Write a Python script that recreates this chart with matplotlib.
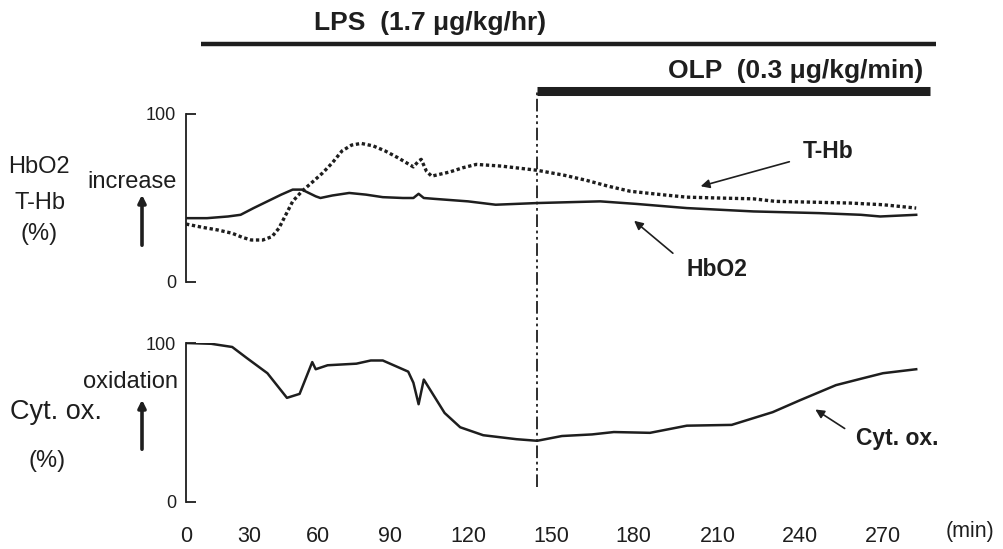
#!/usr/bin/env python3

import numpy as np
import matplotlib
matplotlib.use("Agg")
import matplotlib.pyplot as plt
from matplotlib import transforms

# HbO2 (solid)
TIME_HBO2 = [0, 10, 20, 26, 32, 38, 44, 49, 53, 56, 59, 61, 66, 73, 80, 87, 95,
             99, 101, 103, 107, 120, 130, 145, 168, 181, 199, 223, 247, 262, 269, 282]
HBO2 = [38, 38, 39, 40, 44, 48, 52, 55, 55, 53, 51, 50, 51.5, 53, 52, 50.5, 50,
        50, 52.5, 50, 49.5, 48, 46, 47, 48, 46.5, 44, 42, 41, 40, 39, 40]

# T-Hb (dotted)
TIME_THB = [0, 8, 15, 22, 27, 31, 36, 40, 43, 46, 49, 53, 58, 62, 66, 70, 74, 78,
            83, 88, 93, 99, 101, 102, 104, 106, 113, 118, 123, 132, 145, 155, 163,
            171, 179, 190, 199, 210, 223, 231, 245, 258, 270, 282]
THB = [34.5, 32.5, 31, 29, 26.5, 25, 25, 27, 32, 40, 48, 54, 60, 65, 71, 78, 81.5,
       82.5, 81, 78, 74, 68.5, 72, 73, 66, 63, 65.5, 68, 70, 69, 66.5, 63.5, 60.5,
       57, 54, 52, 50.5, 50, 49.5, 48, 47.5, 47, 46, 44]

# Cyt. ox.
TIME_CYT = [0, 12, 22, 29, 38, 46.5, 52, 57.5, 59, 64, 76, 82, 87, 97, 99, 101, 103,
            111, 117, 125.5, 137.5, 145, 154, 165, 173, 186, 199, 215, 230, 240, 253,
            262, 270, 282]
CYT = [100, 99.5, 97.5, 90.5, 81, 65.5, 68, 88, 83.5, 86, 87, 89, 89, 82, 75, 61.5,
       77, 56, 47, 42, 39.5, 38.5, 41.5, 42.5, 44, 43.5, 48, 48.5, 56.5, 64, 73.5,
       77.5, 81, 83.5]

XTICKS = [0, 30, 60, 90, 120, 150, 180, 210, 240, 270]
LPS_START, LPS_END = 7, 289
OLP_START, OLP_END = 145, 287

# the printed time axis is not evenly spaced: pixel position of each tick
TICK_PX = [186, 249, 318, 390, 468, 551, 633, 718, 800, 883]
W, H = 1004, 549
INK = "#1e1e1e"

ext_min = [-30] + XTICKS + [330]
ext_px = [TICK_PX[0] - 63] + TICK_PX + [TICK_PX[-1] + 166]


def fwd(m):
    return np.interp(m, ext_min, ext_px)


def inv(p):
    return np.interp(p, ext_px, ext_min)


def fx(x):
    return x / W


def fy(y):
    return 1 - y / H


plt.rcParams["font.family"] = ["Liberation Sans", "DejaVu Sans"]

fig = plt.figure(figsize=(W / 100, H / 100), dpi=100)
fig.patch.set_facecolor("white")

xmax = 290
left = 186
right = float(fwd(xmax))
ax1 = fig.add_axes([fx(left), fy(282), (right - left) / W, 168 / H])
ax2 = fig.add_axes([fx(left), fy(502), (right - left) / W, 159 / H])

for ax in (ax1, ax2):
    ax.set_xscale("function", functions=(fwd, inv))
    ax.set_xlim(0, xmax)
    ax.set_ylim(0, 100)
    for s in ("top", "right", "bottom"):
        ax.spines[s].set_visible(False)
    ax.spines["left"].set_linewidth(1.3)
    ax.spines["left"].set_color(INK)
    ax.set_yticks([0, 100])
    ax.tick_params(axis="y", direction="in", length=7, width=1.3, colors=INK,
                   labelsize=13, pad=7)
    ax.set_facecolor("none")

ax1.set_xticks([])
ax2.set_xticks(XTICKS)
ax2.set_xticklabels([str(t) for t in XTICKS])
ax2.tick_params(axis="x", length=0, pad=17, labelsize=15.5, colors=INK)

ax1.plot(TIME_HBO2, HBO2, color=INK, lw=1.8)
ax1.plot(TIME_THB, THB, color=INK, lw=2.4, linestyle=(0, (1, 0.8)))
ax2.plot(TIME_CYT, CYT, color=INK, lw=1.8)

# infusion bars above the panels
trans = transforms.blended_transform_factory(ax1.transData, fig.transFigure)
ax1.plot([LPS_START, LPS_END], [fy(44)] * 2, transform=trans, clip_on=False,
         color=INK, lw=3.2, solid_capstyle="butt")
ax1.plot([OLP_START, OLP_END], [fy(91)] * 2, transform=trans, clip_on=False,
         color=INK, lw=6.5, solid_capstyle="butt")
fig.text(fx(430), fy(23), "LPS  (1.7 \u03bcg/kg/hr)", ha="center", va="center",
         fontsize=19, fontweight="bold", color=INK)
fig.text(fx(796), fy(71), "OLP  (0.3 \u03bcg/kg/min)", ha="center", va="center",
         fontsize=19, fontweight="bold", color=INK)

# start of OLP
ax2.axvline(OLP_START, ymin=(502 - 487) / 159, ymax=(502 - 90) / 159,
            clip_on=False, color=INK, lw=1.3, dashes=[7, 2, 1.5, 2, 1.5, 2])

# left-hand labels
fig.text(fx(39), fy(167), "HbO2", ha="center", va="center", fontsize=17, color=INK)
fig.text(fx(40), fy(203), "T-Hb", ha="center", va="center", fontsize=17, color=INK)
fig.text(fx(39), fy(234), "(%)", ha="center", va="center", fontsize=17, color=INK)
fig.text(fx(132), fy(182), "increase", ha="center", va="center", fontsize=17,
         color=INK)
fig.text(fx(56), fy(412), "Cyt. ox.", ha="center", va="center", fontsize=19.5,
         color=INK)
fig.text(fx(47), fy(461), "(%)", ha="center", va="center", fontsize=17, color=INK)
fig.text(fx(131), fy(382), "oxidation", ha="center", va="center", fontsize=17,
         color=INK)
fig.text(fx(970), fy(532), "(min)", ha="center", va="center", fontsize=15.5,
         color=INK)

for y0, y1 in ((248, 192), (452, 397)):
    fig.patches.append(matplotlib.patches.FancyArrowPatch(
        (fx(142), fy(y0)), (fx(142), fy(y1)), transform=fig.transFigure,
        arrowstyle="-|>", mutation_scale=11, lw=2.6, color=INK))

# curve labels with arrows
notes = [("T-Hb", (828, 152), (792, 161), (698, 187)),
         ("HbO2", (717, 270), (675, 255), (632, 219)),
         ("Cyt. ox.", (897, 438), (847, 430), (813, 408))]
for label, (tx, ty), (sx, sy), (ex, ey) in notes:
    fig.text(fx(tx), fy(ty), label, ha="center", va="center", fontsize=16.5,
             fontweight="bold", color=INK)
    fig.patches.append(matplotlib.patches.FancyArrowPatch(
        (fx(sx), fy(sy)), (fx(ex), fy(ey)), transform=fig.transFigure,
        arrowstyle="-|>", mutation_scale=13, lw=1.2, color=INK))

fig.savefig("out.png", dpi=100, facecolor="white")
